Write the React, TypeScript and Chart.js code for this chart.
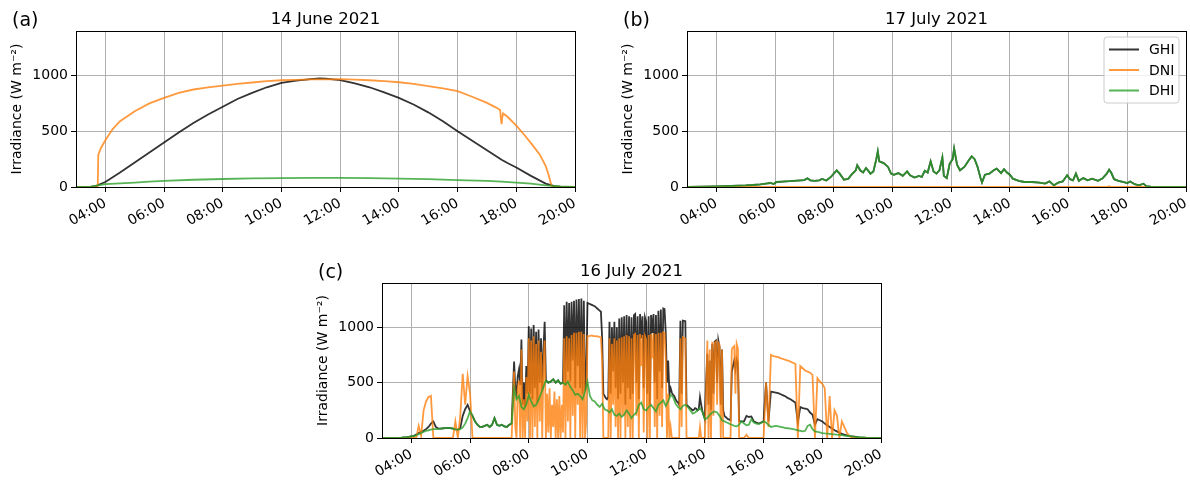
import React, { useEffect, useRef } from 'react';
import { Chart, registerables } from 'chart.js';

Chart.register(...registerables);

const FONT = "'DejaVu Sans', sans-serif";

// ---------- shared axis data ----------
const X_TICK_HOURS = [4, 6, 8, 10, 12, 14, 16, 18, 20];
const X_TICK_LABELS = ['04:00', '06:00', '08:00', '10:00', '12:00', '14:00', '16:00', '18:00', '20:00'];
const Y_TICKS = [0, 500, 1000];
const SERIES_NAMES = ['GHI', 'DNI', 'DHI'];
const SERIES_COLORS = ['rgba(0,0,0,0.8)', 'rgba(255,127,14,0.8)', 'rgba(44,160,44,0.8)'];

// ---------- (a) 14 June 2021 ----------
const TIMES_A_GHI = [3.0, 3.5, 3.7, 3.75, 4.0, 4.5, 5.0, 5.5, 6.0, 6.5, 7.0, 7.5, 8.0, 8.5, 9.0, 9.5, 10.0, 10.5, 11.0, 11.3, 11.5, 12.0, 12.5, 13.0, 13.5, 14.0, 14.5, 15.0, 15.5, 16.0, 16.5, 17.0, 17.5, 17.7, 18.0, 18.5, 19.0, 19.3, 19.5, 20.0];
const GHI_A = [0, 2, 10, 18, 45, 130, 220, 310, 400, 490, 575, 650, 720, 790, 845, 895, 935, 955, 968, 975, 972, 960, 930, 895, 850, 800, 740, 670, 590, 500, 415, 330, 245, 215, 175, 100, 30, 8, 3, 0];
const TIMES_A_DNI = [3.0, 3.74, 3.76, 3.85, 4.0, 4.25, 4.5, 5.0, 5.5, 6.0, 6.5, 7.0, 7.5, 8.0, 8.5, 9.0, 9.5, 10.0, 10.5, 11.0, 11.5, 12.0, 12.5, 13.0, 13.5, 14.0, 14.5, 15.0, 15.5, 16.0, 16.5, 17.0, 17.3, 17.45, 17.48, 17.5, 17.52, 17.55, 17.7, 18.0, 18.3, 18.6, 18.8, 19.0, 19.1, 19.18, 19.22, 19.5, 20.0];
const DNI_A = [0, 0, 290, 350, 420, 520, 590, 680, 750, 800, 845, 875, 895, 910, 925, 938, 950, 958, 962, 965, 966, 968, 963, 958, 950, 940, 925, 905, 885, 860, 810, 755, 715, 690, 600, 565, 620, 660, 630, 550, 460, 360, 290, 190, 110, 30, 0, 0, 0];
const TIMES_A_DHI = [3.0, 3.5, 3.75, 4.0, 4.5, 5.0, 5.5, 6.0, 7.0, 8.0, 9.0, 10.0, 11.0, 12.0, 13.0, 14.0, 15.0, 16.0, 17.0, 17.5, 18.0, 18.5, 19.0, 19.5, 20.0];
const DHI_A = [0, 3, 15, 25, 33, 40, 48, 55, 65, 72, 77, 80, 82, 82, 80, 75, 70, 62, 55, 48, 40, 30, 15, 5, 0];

// ---------- (b) 17 July 2021 ----------
const TIMES_B = [3.0, 3.5, 4.0, 4.5, 5.0, 5.25, 5.5, 5.75, 5.85, 5.95, 6.05, 6.25, 6.5, 6.75, 7.0, 7.1, 7.2, 7.35, 7.5, 7.6, 7.75, 7.9, 8.0, 8.1, 8.2, 8.35, 8.5, 8.6, 8.75, 8.8, 8.9, 9.0, 9.1, 9.25, 9.35, 9.45, 9.5, 9.55, 9.7, 9.85, 9.95, 10.05, 10.2, 10.35, 10.5, 10.6, 10.75, 10.9, 11.0, 11.1, 11.2, 11.3, 11.4, 11.5, 11.6, 11.7, 11.75, 11.85, 11.95, 12.05, 12.1, 12.2, 12.3, 12.45, 12.6, 12.7, 12.8, 12.9, 13.0, 13.05, 13.15, 13.3, 13.45, 13.55, 13.7, 13.8, 13.9, 14.0, 14.1, 14.3, 14.5, 14.75, 15.0, 15.2, 15.35, 15.5, 15.65, 15.8, 15.95, 16.05, 16.15, 16.25, 16.35, 16.5, 16.65, 16.8, 17.0, 17.15, 17.3, 17.38, 17.45, 17.55, 17.7, 17.85, 18.0, 18.1, 18.25, 18.4, 18.55, 18.65, 18.8, 19.0, 19.5, 20.0];
const DHI_B = [2, 3, 5, 9, 14, 18, 24, 33, 36, 27, 45, 48, 52, 58, 62, 78, 60, 55, 60, 72, 58, 90, 120, 150, 120, 65, 75, 110, 150, 195, 150, 130, 170, 120, 140, 250, 320, 230, 215, 180, 120, 110, 125, 100, 140, 105, 85, 100, 90, 145, 130, 230, 140, 120, 150, 265, 100, 80, 210, 250, 345, 200, 150, 180, 240, 275, 250, 180, 80, 40, 110, 120, 150, 165, 125, 160, 130, 110, 75, 55, 45, 45, 40, 30, 50, 15, 40, 50, 105, 70, 60, 120, 55, 80, 60, 75, 55, 75, 120, 155, 130, 70, 55, 45, 35, 50, 25, 15, 30, 8, 4, 2, 1, 0];
const GHI_B = DHI_B; // overcast: GHI coincides with DHI in the picture
const TIMES_B_DNI = [3.0, 17.3, 17.38, 17.45, 20.0];
const DNI_B = [0, 0, 8, 0, 0];

// ---------- (c) 16 July 2021 ----------
// DHI: 5-minute samples 03:00 .. 20:00
const TIMES_C_DHI = Array.from({ length: 205 }, (_, i) => 3 + i / 12);
const DHI_C = [
  0, 0, 0, 0, 0, 0, 1, 2, 3, 5, 7, 10,
  14, 18, 25, 35, 45, 55, 65, 70, 75, 80, 80, 82,
  85, 88, 90, 92, 90, 85, 78, 75, 80, 95, 130, 180,
  240, 200, 150, 120, 100, 100, 110, 120, 100, 120, 180, 120,
  110, 120, 105, 100, 120, 130, 450, 350, 380, 280, 260, 300,
  390, 330, 285, 300, 345, 400, 460, 520, 500, 510, 530, 500,
  520, 490, 500, 480, 510, 460, 430, 390, 400, 380, 350, 420,
  510, 380, 340, 330, 300, 280, 310, 260, 250, 230, 260, 210,
  200, 220, 190, 210, 250, 220, 180, 210, 230, 300, 320, 260,
  250, 280, 300, 270, 240, 300, 320, 340, 290, 330, 390, 370,
  310, 280, 260, 290, 300, 280, 250, 220, 230, 250, 270, 240,
  170, 180, 210, 230, 240, 230, 200, 160, 150, 140, 130, 120,
  110, 105, 120, 150, 130, 115, 120, 170, 140, 130, 125, 135,
  150, 140, 120, 100, 105, 110, 105, 100, 95, 90, 88, 85,
  80, 75, 70, 65, 60, 65, 110, 120, 80, 60, 55, 50,
  45, 42, 40, 38, 35, 33, 30, 28, 25, 22, 20, 18,
  15, 12, 10, 8, 6, 5, 3, 2, 1, 1, 0, 0,
  0,
];
// GHI / DNI: 5-min samples 03:00-07:25, 2.5-min samples 07:30-15:12.5, 5-min samples 15:15-20:00
const TIMES_C = [
  ...Array.from({ length: 54 }, (_, i) => 3 + i / 12),
  ...Array.from({ length: 186 }, (_, i) => 7.5 + i / 24),
  ...Array.from({ length: 58 }, (_, i) => 15.25 + i / 12),
];
const GHI_C = [
  // 03:00-07:25 (5 min)
  0, 0, 0, 0, 0, 0, 1, 2, 3, 5, 7, 10,
  15, 20, 30, 45, 55, 65, 80, 100, 130, 150, 100, 85,
  85, 88, 90, 92, 90, 85, 78, 75, 90, 200, 260, 300,
  240, 200, 150, 120, 100, 100, 110, 120, 100, 120, 180, 120,
  110, 120, 105, 100, 120, 130,
  // 07:30-15:12.5 (2.5 min)
  690, 450, 400, 560, 620, 480, 890, 300, 500, 280, 650, 400,
  1010, 400, 990, 350, 1020, 450, 960, 320, 980, 500, 900, 430,
  800, 1050, 520, 510, 500, 505, 510, 520, 530, 515, 500, 510,
  520, 505, 490, 495, 500, 1200, 480, 1230, 600, 1220, 510, 1230,
  700, 1240, 450, 1250, 650, 1255, 450, 1260, 400, 1240, 430, 560,
  1220, 1215, 1210, 1205, 1200, 1195, 1190, 1180, 1170, 1160, 1150, 1140,
  900, 400, 380, 360, 350, 370, 1050, 400, 1000, 600, 1050, 450,
  1000, 350, 1080, 400, 1090, 500, 1100, 300, 1110, 450, 1100, 350,
  1090, 400, 1110, 1120, 500, 1100, 350, 1120, 900, 1100, 450, 1090,
  1050, 400, 1100, 300, 1110, 950, 1120, 500, 1110, 350, 1150, 600,
  1160, 450, 1170, 1165, 950, 500, 700, 400, 450, 410, 390, 380,
  350, 330, 320, 300, 1060, 400, 1060, 1058, 1055, 300, 290, 280,
  270, 260, 250, 255, 270, 265, 250, 260, 370, 300, 240, 205,
  170, 500, 760, 300, 700, 250, 850, 400, 870, 880, 500, 880,
  820, 300, 800, 250, 200, 190, 180, 170, 165, 160, 600, 650,
  700, 620, 710, 680, 150, 150,
  // 15:15-20:00 (5 min)
  150, 150, 200, 190, 195, 150, 140, 130, 140,
  150, 500, 150, 420, 415, 410, 405, 395, 385, 375, 360, 350,
  335, 320, 140, 280, 270, 265, 260, 230, 210, 120, 170, 160,
  150, 130, 115, 100, 85, 70, 60, 48, 38, 30, 24, 18,
  15, 12, 9, 6, 4, 3, 2, 1, 0, 0, 0, 0,
  0,
];
const DNI_C = [
  // 03:00-07:25 (5 min)
  0, 0, 0, 0, 0, 0, 0, 0, 0, 0, 0, 0,
  0, 0, 0, 110, 20, 250, 330, 370, 380, 0, 0, 0,
  0, 0, 0, 0, 0, 0, 150, 0, 200, 580, 300, 560,
  400, 0, 0, 0, 0, 0, 0, 0, 0, 0, 0, 0,
  0, 0, 0, 0, 0, 0,
  // 07:30-15:12.5 (2.5 min)
  600, 100, 0, 450, 520, 0, 800, 0, 350, 0, 550, 150,
  900, 0, 880, 0, 920, 100, 850, 0, 880, 150, 780, 0,
  650, 880, 0, 400, 50, 450, 0, 300, 100, 420, 0, 350,
  0, 380, 0, 300, 50, 900, 0, 920, 150, 900, 0, 930,
  200, 950, 0, 950, 300, 960, 0, 960, 0, 940, 0, 150,
  920, 920, 922, 925, 925, 920, 920, 918, 920, 915, 912, 910,
  700, 0, 0, 0, 0, 0, 900, 0, 850, 300, 900, 100,
  880, 0, 900, 0, 910, 200, 920, 0, 930, 100, 920, 0,
  900, 0, 930, 940, 200, 930, 0, 940, 650, 930, 50, 920,
  890, 0, 930, 0, 940, 720, 945, 100, 940, 0, 950, 200,
  950, 100, 955, 950, 720, 0, 400, 0, 100, 0, 0, 0,
  0, 0, 0, 0, 900, 100, 910, 905, 900, 0, 0, 0,
  0, 0, 0, 0, 0, 0, 0, 0, 100, 0, 0, 0,
  0, 400, 880, 0, 800, 0, 870, 200, 860, 870, 300, 860,
  840, 0, 800, 0, 0, 0, 0, 0, 0, 0, 800, 820,
  830, 400, 850, 810, 0, 0,
  // 15:15-20:00 (5 min)
  0, 0, 30, 0, 0, 0, 0, 0, 0,
  0, 500, 100, 750, 740, 735, 730, 720, 715, 705, 700, 690,
  680, 670, 0, 650, 630, 610, 600, 590, 570, 0, 540, 510,
  490, 450, 0, 380, 0, 250, 200, 0, 150, 100, 50, 20,
  5, 0, 0, 0, 0, 0, 0, 0, 0, 0, 0, 0,
  0,
];

type Series = { times: number[]; values: number[] };

const decorPlugin = {
  id: 'decor',
  afterDatasetsDraw(chart: any, _args: any, opts: any) {
    const { ctx, chartArea: ca } = chart;
    ctx.save();
    // frame (spines)
    ctx.strokeStyle = '#000';
    ctx.lineWidth = 1;
    ctx.strokeRect(Math.round(ca.left) + 0.5, Math.round(ca.top) + 0.5, Math.round(ca.right - ca.left), Math.round(ca.bottom - ca.top));
    // title
    ctx.fillStyle = '#000';
    ctx.textBaseline = 'alphabetic';
    ctx.textAlign = 'center';
    ctx.font = `16.5px ${FONT}`;
    ctx.fillText(opts.title, (ca.left + ca.right) / 2, ca.top - 7);
    // panel label
    ctx.textAlign = 'left';
    ctx.font = `19px ${FONT}`;
    ctx.fillText(opts.label, ca.left - 64, ca.top - 5);
    // legend
    if (opts.legend) {
      const w = 75, h = 66;
      const x0 = ca.right - 7 - w, y0 = ca.top + 6;
      const r = 3;
      ctx.beginPath();
      ctx.moveTo(x0 + r, y0);
      ctx.lineTo(x0 + w - r, y0);
      ctx.quadraticCurveTo(x0 + w, y0, x0 + w, y0 + r);
      ctx.lineTo(x0 + w, y0 + h - r);
      ctx.quadraticCurveTo(x0 + w, y0 + h, x0 + w - r, y0 + h);
      ctx.lineTo(x0 + r, y0 + h);
      ctx.quadraticCurveTo(x0, y0 + h, x0, y0 + h - r);
      ctx.lineTo(x0, y0 + r);
      ctx.quadraticCurveTo(x0, y0, x0 + r, y0);
      ctx.closePath();
      ctx.fillStyle = 'rgba(255,255,255,0.8)';
      ctx.fill();
      ctx.strokeStyle = '#cccccc';
      ctx.lineWidth = 1;
      ctx.stroke();
      ctx.font = `14px ${FONT}`;
      ctx.textBaseline = 'middle';
      chart.data.datasets.forEach((ds: any, i: number) => {
        const yy = y0 + 12.5 + i * 20.5;
        ctx.strokeStyle = ds.borderColor;
        ctx.lineWidth = 2;
        ctx.beginPath();
        ctx.moveTo(x0 + 5, yy);
        ctx.lineTo(x0 + 35, yy);
        ctx.stroke();
        ctx.fillStyle = '#000';
        ctx.fillText(ds.label, x0 + 45, yy + 1);
      });
    }
    ctx.restore();
  },
};

function makeConfig(series: Series[], title: string, label: string, legend: boolean, topPad: number, xAxisH: number) {
  const gridOpts = { color: '#b0b0b0', lineWidth: 1, tickColor: '#000', tickLength: 5, drawTicks: true };
  return {
    type: 'line',
    data: {
      datasets: series.map((s, i) => ({
        label: SERIES_NAMES[i],
        data: s.times.map((t, j) => ({ x: t, y: s.values[j] })),
        borderColor: SERIES_COLORS[i],
        backgroundColor: SERIES_COLORS[i],
        borderWidth: 1.8,
        pointRadius: 0,
        fill: false,
        tension: 0,
        order: 3 - i,
      })),
    },
    options: {
      animation: false,
      responsive: false,
      events: [],
      layout: { padding: { top: topPad, right: 4, bottom: 0, left: 0 } },
      plugins: {
        legend: { display: false },
        tooltip: { enabled: false },
        title: { display: false },
        decor: { title, label, legend },
      },
      scales: {
        x: {
          type: 'linear',
          min: 3,
          max: 20,
          afterBuildTicks: (s: any) => { s.ticks = X_TICK_HOURS.map((v) => ({ value: v })); },
          afterFit: (s: any) => { s.height = xAxisH; s.paddingLeft = 0; s.paddingRight = 0; },
          ticks: {
            autoSkip: false,
            minRotation: 30,
            maxRotation: 30,
            padding: 3,
            color: '#000',
            font: { family: FONT, size: 14 },
            callback: (v: number) => { const k = X_TICK_HOURS.indexOf(v); return k >= 0 ? X_TICK_LABELS[k] : ''; },
          },
          grid: gridOpts,
          border: { display: false },
        },
        y: {
          type: 'linear',
          min: 0,
          max: 1400,
          afterBuildTicks: (s: any) => { s.ticks = Y_TICKS.map((v) => ({ value: v })); },
          afterFit: (s: any) => { s.width = 76; s.paddingTop = 0; s.paddingBottom = 0; },
          ticks: {
            padding: 3,
            color: '#000',
            font: { family: FONT, size: 14 },
            callback: (v: number) => String(v),
          },
          grid: gridOpts,
          border: { display: false },
          title: {
            display: true,
            text: 'Irradiance (W m⁻²)',
            color: '#000',
            font: { family: FONT, size: 14 },
            padding: { top: 9, bottom: 0 },
          },
        },
      },
    },
    plugins: [decorPlugin],
  };
}

function Panel(props: { left: number; top: number; width: number; height: number; config: any }) {
  const ref = useRef<HTMLCanvasElement>(null);
  useEffect(() => {
    const chart = new Chart(ref.current as HTMLCanvasElement, props.config);
    return () => chart.destroy();
  }, []);
  return (
    <div style={{ position: 'absolute', left: props.left, top: props.top, width: props.width, height: props.height }}>
      <canvas ref={ref} width={props.width} height={props.height} style={{ width: props.width, height: props.height, display: 'block' }} />
    </div>
  );
}

export default function App() {
  const cfgA = makeConfig(
    [
      { times: TIMES_A_GHI, values: GHI_A },
      { times: TIMES_A_DNI, values: DNI_A },
      { times: TIMES_A_DHI, values: DHI_A },
    ],
    '14 June 2021', '(a)', false, 31, 53,
  );
  const cfgB = makeConfig(
    [
      { times: TIMES_B, values: GHI_B },
      { times: TIMES_B_DNI, values: DNI_B },
      { times: TIMES_B, values: DHI_B },
    ],
    '17 July 2021', '(b)', true, 31, 53,
  );
  const cfgC = makeConfig(
    [
      { times: TIMES_C, values: GHI_C },
      { times: TIMES_C, values: DNI_C },
      { times: TIMES_C_DHI, values: DHI_C },
    ],
    '16 July 2021', '(c)', false, 43, 42,
  );
  return (
    <div style={{ position: 'absolute', left: 0, top: 0, width: 1190, height: 480, background: '#fff', overflow: 'hidden' }}>
      <Panel left={0} top={0} width={579} height={240} config={cfgA} />
      <Panel left={611} top={0} width={579} height={240} config={cfgB} />
      <Panel left={306} top={240} width={579} height={240} config={cfgC} />
    </div>
  );
}
